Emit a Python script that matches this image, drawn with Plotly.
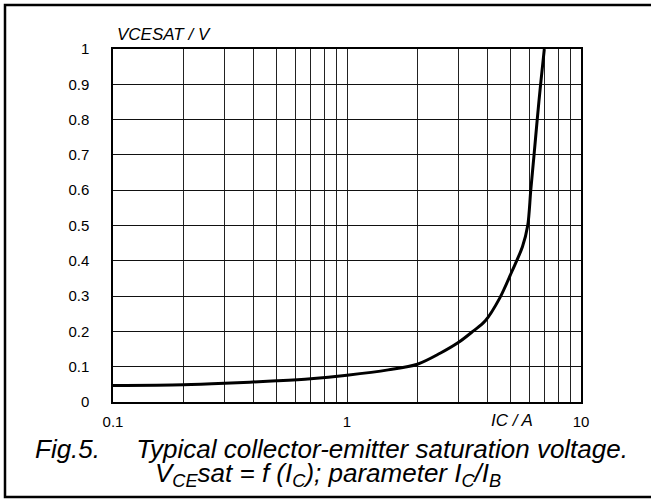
import plotly.graph_objects as go

# Data
ic = [0.1, 0.2, 0.3, 0.5, 0.7, 1, 1.5, 2, 2.5, 3, 3.45, 3.9, 4.5, 5.06, 5.62, 5.92, 6.1, 6.3, 6.5, 6.72, 6.97]
vcesat = [0.047, 0.049, 0.053, 0.06, 0.066, 0.076, 0.091, 0.107, 0.138, 0.169, 0.2, 0.23, 0.295, 0.369, 0.44, 0.5, 0.6, 0.7, 0.8, 0.9, 1.0]

x_grid = [0.1, 0.2, 0.3, 0.4, 0.5, 0.6, 0.7, 0.8, 0.9, 1, 2, 3, 4, 5, 6, 7, 8, 9, 10]
x_labels = {0.1: "0.1", 1: "1", 10: "10"}
y_ticks = [0, 0.1, 0.2, 0.3, 0.4, 0.5, 0.6, 0.7, 0.8, 0.9, 1]
y_labels = ["0", "0.1", "0.2", "0.3", "0.4", "0.5", "0.6", "0.7", "0.8", "0.9", "1"]

FONT = "Liberation Sans, Arial, sans-serif"

W, H = 651, 500
L, R, T, B = 113, 581, 49, 402
pw, ph = R - L, B - T

def px(p):
    return (p - L) / pw

def py(p):
    return (B - p) / ph

fig = go.Figure()
fig.add_trace(go.Scatter(x=ic, y=vcesat, mode="lines",
                         line=dict(color="black", width=3, shape="spline", smoothing=0.9),
                         showlegend=False, hoverinfo="skip"))

fig.update_layout(
    width=W, height=H,
    margin=dict(l=L, r=W - R, t=T, b=H - B, pad=0),
    paper_bgcolor="white", plot_bgcolor="white",
    font=dict(family=FONT, size=15, color="black"),
    xaxis=dict(type="log", range=[-1, 1], tickmode="array", tickvals=x_grid,
               ticktext=[x_labels.get(v, "") for v in x_grid],
               showgrid=True, gridcolor="#222", gridwidth=1,
               showline=True, linecolor="black", linewidth=1.5, mirror=True,
               ticks="", ticklabelstandoff=5, zeroline=False,
               tickfont=dict(family=FONT, size=15)),
    yaxis=dict(range=[0, 1], tickmode="array", tickvals=y_ticks, ticktext=y_labels,
               showgrid=True, gridcolor="#111", gridwidth=1,
               showline=True, linecolor="black", linewidth=1.5, mirror=True,
               ticks="", ticklabelstandoff=19, zeroline=False,
               tickfont=dict(family=FONT, size=15)),
    shapes=[dict(type="rect", xref="paper", yref="paper",
                 x0=px(5), x1=px(662), y0=py(497), y1=py(5),
                 line=dict(color="black", width=2.5), fillcolor="rgba(0,0,0,0)")],
    annotations=[
        dict(text="<i>VCESAT / V</i>", xref="paper", yref="paper", x=px(115), y=py(35),
             xanchor="left", yanchor="middle", showarrow=False, font=dict(size=17)),
        dict(text="<i>IC / A</i>", xref="paper", yref="paper", x=px(512), y=py(420),
             xanchor="center", yanchor="middle", showarrow=False, font=dict(size=17)),
        dict(text="<i>Fig.5.\u00a0\u00a0\u00a0\u00a0 Typical collector-emitter saturation voltage.</i>",
             xref="paper", yref="paper", x=px(331), y=py(449),
             xanchor="center", yanchor="middle", showarrow=False, font=dict(size=26)),
        dict(text="<i>V<sub>CE</sub>sat = f (I<sub>C</sub>); parameter I<sub>C</sub>/I<sub>B</sub></i>",
             xref="paper", yref="paper", x=px(328), y=py(474),
             xanchor="center", yanchor="middle", showarrow=False, font=dict(size=26)),
    ],
)

fig.write_html("out.html", config={"displayModeBar": False},
               post_script="document.body.style.margin='0';")
